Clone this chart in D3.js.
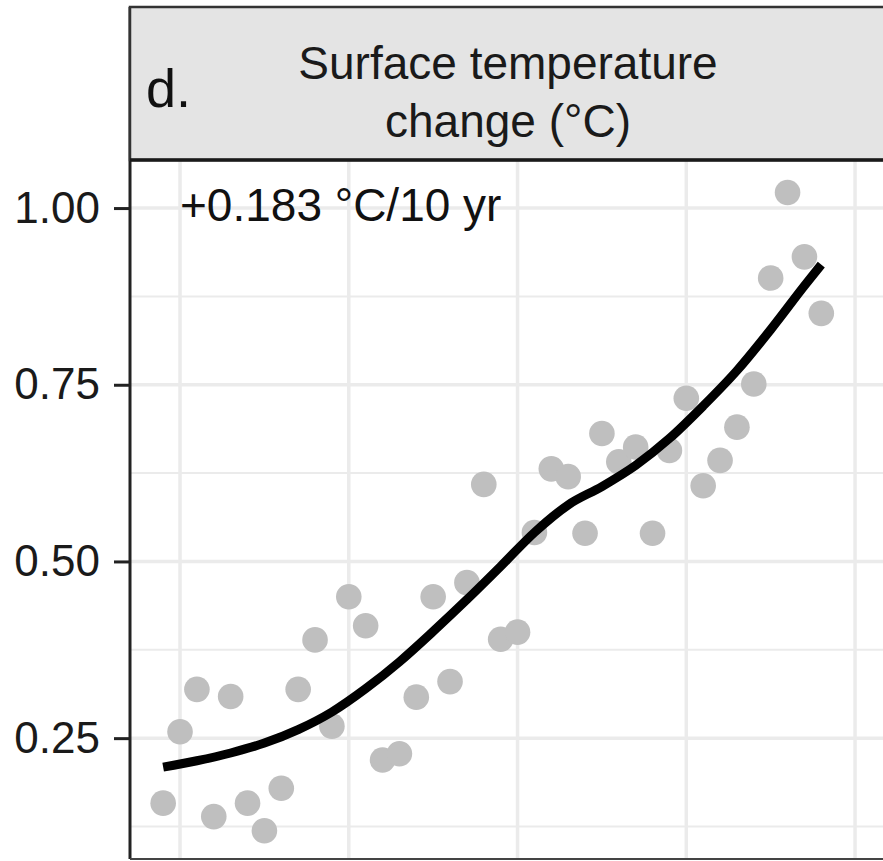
<!DOCTYPE html>
<html>
<head>
<meta charset="utf-8">
<script src="https://cdn.jsdelivr.net/npm/d3@7"></script>
<style>
  body { margin: 0; background: #fff; }
  text { font-family: "Liberation Sans", Arial, sans-serif; }
</style>
</head>
<body>
<div id="chart"></div>
<script>
// DATA
const years = d3.range(1979, 2019)
const tempChange = [0.158, 0.259, 0.319, 0.139, 0.309, 0.158, 0.119, 0.179, 0.319, 0.389,
  0.267, 0.450, 0.409, 0.219, 0.228, 0.308, 0.450, 0.330, 0.470, 0.609,
  0.390, 0.400, 0.541, 0.631, 0.620, 0.540, 0.681, 0.641, 0.662, 0.540,
  0.657, 0.731, 0.607, 0.643, 0.690, 0.751, 0.901, 1.022, 0.931, 0.851]
// smooth (loess) curve
const smoothYears = [1979, 1981, 1983, 1985, 1987, 1989, 1991, 1993, 1995, 1997, 1999,
  2001, 2003, 2005, 2007, 2009, 2011, 2013, 2015, 2017, 2018]
const smoothValues = [0.209, 0.218, 0.229, 0.243, 0.262, 0.287, 0.320, 0.358, 0.401, 0.446, 0.493,
  0.541, 0.580, 0.606, 0.636, 0.674, 0.720, 0.770, 0.828, 0.890, 0.920]
const yTicks = [0.25, 0.50, 0.75, 1.00]
const yMinor = [0.125, 0.375, 0.625, 0.875]
const xGrid = [1980, 1990, 2000, 2010, 2020]
const stripTitle = ["Surface temperature", "change (°C)"]
const panelLabel = "d."
const trendLabel = "+0.183 °C/10 yr"

const width = 883, height = 861
const panel = {left: 130, top: 160, right: 892, bottom: 859}

const svg = d3.select("#chart").append("svg")
  .attr("width", width)
  .attr("height", height)

const xScale = d3.scaleLinear()
  .domain([1977, 2022])
  .range([129.4, 888.8])

const yScale = d3.scaleLinear()
  .domain([0.079, 1.068])
  .range([panel.bottom, panel.top])

// panel background
svg.append("rect")
  .attr("x", panel.left).attr("y", panel.top)
  .attr("width", panel.right - panel.left).attr("height", panel.bottom - panel.top)
  .attr("fill", "white")

const grid = svg.append("g")
// minor gridlines
grid.selectAll(".minor")
  .data(yMinor)
  .join("line")
    .attr("x1", panel.left).attr("x2", panel.right)
    .attr("y1", d => yScale(d)).attr("y2", d => yScale(d))
    .attr("stroke", "#ebebeb").attr("stroke-width", 2)
// major gridlines
grid.selectAll(".major")
  .data(yTicks)
  .join("line")
    .attr("x1", panel.left).attr("x2", panel.right)
    .attr("y1", d => yScale(d)).attr("y2", d => yScale(d))
    .attr("stroke", "#ebebeb").attr("stroke-width", 3.5)
grid.selectAll(".vert")
  .data(xGrid)
  .join("line")
    .attr("x1", d => xScale(d)).attr("x2", d => xScale(d))
    .attr("y1", panel.top).attr("y2", panel.bottom)
    .attr("stroke", "#ebebeb").attr("stroke-width", 3.5)

// points
svg.append("g")
  .selectAll("circle")
  .data(years.map((y, i) => ({year: y, value: tempChange[i]})))
  .join("circle")
    .attr("cx", d => xScale(d.year))
    .attr("cy", d => yScale(d.value))
    .attr("r", 12.8)
    .attr("fill", "#bfbfbf")

// smooth line
const line = d3.line()
  .x(d => xScale(d.year))
  .y(d => yScale(d.value))
  .curve(d3.curveMonotoneX)

svg.append("path")
  .datum(smoothYears.map((y, i) => ({year: y, value: smoothValues[i]})))
  .attr("d", line)
  .attr("fill", "none")
  .attr("stroke", "black")
  .attr("stroke-width", 9)

// trend annotation
svg.append("text")
  .attr("x", 180).attr("y", 221)
  .attr("font-size", 46)
  .attr("fill", "#111")
  .text(trendLabel)

// y axis
const yAxis = d3.axisLeft(yScale)
  .tickValues(yTicks)
  .tickFormat(d3.format(".2f"))
  .tickSize(16)
  .tickPadding(14)

svg.append("g")
  .attr("transform", `translate(${panel.left}, 0)`)
  .call(yAxis)
  .call(g => g.select(".domain").remove())
  .call(g => g.selectAll(".tick line").attr("stroke", "#222").attr("stroke-width", 3))
  .call(g => g.selectAll(".tick text")
    .attr("font-size", 44)
    .attr("fill", "#1a1a1a")
    .attr("font-family", "Liberation Sans, Arial, sans-serif"))

// panel borders
svg.append("line")
  .attr("x1", panel.left).attr("x2", panel.left)
  .attr("y1", 7).attr("y2", panel.bottom)
  .attr("stroke", "#222").attr("stroke-width", 3)
svg.append("line")
  .attr("x1", panel.left).attr("x2", panel.right)
  .attr("y1", panel.bottom).attr("y2", panel.bottom)
  .attr("stroke", "#444").attr("stroke-width", 2)

// strip
svg.append("rect")
  .attr("x", panel.left).attr("y", 7)
  .attr("width", panel.right - panel.left).attr("height", panel.top - 7)
  .attr("fill", "#e4e4e4")
  .attr("stroke", "#333").attr("stroke-width", 2.5)
svg.append("line")
  .attr("x1", panel.left).attr("x2", panel.right)
  .attr("y1", panel.top).attr("y2", panel.top)
  .attr("stroke", "#1a1a1a").attr("stroke-width", 3.5)

svg.append("g")
  .selectAll("text")
  .data(stripTitle)
  .join("text")
    .attr("x", 508)
    .attr("y", (d, i) => 79 + i * 58)
    .attr("text-anchor", "middle")
    .attr("font-size", 46)
    .attr("fill", "#1a1a1a")
    .text(d => d)

svg.append("text")
  .attr("x", 146).attr("y", 107)
  .attr("font-size", 54)
  .attr("fill", "#111")
  .text(panelLabel)
</script>
</body>
</html>
